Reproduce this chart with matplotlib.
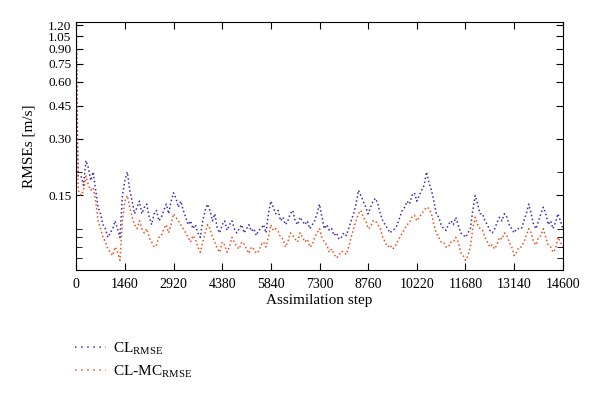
import numpy as np
import matplotlib
matplotlib.use("Agg")
from matplotlib import pyplot as plt
from matplotlib.lines import Line2D

plt.rcParams['font.family'] = ['Liberation Serif', 'DejaVu Serif']
plt.rcParams['mathtext.fontset'] = 'custom'
plt.rcParams['mathtext.rm'] = 'Liberation Serif'

# Spin-up part (steep drop at the very start)
spin_steps = [0, 12, 25, 40, 60]
cl_spin = [1.20, 0.75, 0.45, 0.28, 0.19]
mc_spin = [1.15, 0.70, 0.40, 0.24, 0.16]

# Values read every 146 assimilation steps (146 .. 14600)
cl_rmse = [
    0.19, 0.23, 0.18, 0.16, 0.12, 0.10, 0.095, 0.11, 0.09, 0.18,
    0.16, 0.12, 0.14, 0.13, 0.115, 0.12, 0.11, 0.125, 0.12, 0.155,
    0.13, 0.125, 0.105, 0.10, 0.095, 0.11, 0.135, 0.11, 0.10, 0.105,
    0.098, 0.11, 0.095, 0.105, 0.10, 0.097, 0.092, 0.10, 0.095, 0.14,
    0.12, 0.11, 0.105, 0.12, 0.11, 0.115, 0.105, 0.10, 0.11, 0.135,
    0.10, 0.098, 0.092, 0.088, 0.095, 0.10, 0.12, 0.16, 0.14, 0.12,
    0.14, 0.135, 0.11, 0.10, 0.098, 0.105, 0.125, 0.14, 0.15, 0.14,
    0.16, 0.20, 0.16, 0.12, 0.105, 0.098, 0.11, 0.115, 0.095, 0.09,
    0.10, 0.15, 0.12, 0.11, 0.098, 0.10, 0.115, 0.12, 0.105, 0.095,
    0.10, 0.11, 0.135, 0.105, 0.11, 0.13, 0.105, 0.10, 0.12, 0.10,
]
mc_rmse = [
    0.15, 0.19, 0.16, 0.14, 0.10, 0.085, 0.075, 0.08, 0.068, 0.14,
    0.13, 0.105, 0.11, 0.095, 0.09, 0.08, 0.09, 0.10, 0.095, 0.12,
    0.11, 0.10, 0.09, 0.092, 0.08, 0.085, 0.105, 0.09, 0.078, 0.085,
    0.075, 0.09, 0.08, 0.085, 0.078, 0.08, 0.074, 0.082, 0.08, 0.105,
    0.10, 0.09, 0.08, 0.095, 0.088, 0.095, 0.085, 0.08, 0.09, 0.10,
    0.085, 0.075, 0.073, 0.072, 0.075, 0.08, 0.10, 0.12, 0.115, 0.10,
    0.11, 0.105, 0.09, 0.08, 0.078, 0.085, 0.095, 0.105, 0.115, 0.11,
    0.12, 0.13, 0.12, 0.095, 0.085, 0.08, 0.085, 0.09, 0.075, 0.068,
    0.08, 0.115, 0.10, 0.09, 0.08, 0.078, 0.09, 0.095, 0.085, 0.072,
    0.08, 0.085, 0.10, 0.085, 0.09, 0.10, 0.082, 0.075, 0.09, 0.08,
]
main_steps = [146 * (i + 1) for i in range(len(cl_rmse))]

# Readings half-way between (219 .. 14527): other edge of the scatter band
cl_half = [
    0.17, 0.21, 0.20, 0.13, 0.105, 0.09, 0.10, 0.10, 0.15, 0.20,
    0.14, 0.13, 0.12, 0.135, 0.105, 0.125, 0.115, 0.135, 0.14, 0.145,
    0.14, 0.115, 0.11, 0.105, 0.09, 0.125, 0.125, 0.12, 0.095, 0.11,
    0.105, 0.10, 0.10, 0.095, 0.105, 0.10, 0.098, 0.105, 0.12, 0.13,
    0.125, 0.115, 0.11, 0.125, 0.105, 0.11, 0.11, 0.105, 0.12, 0.115,
    0.105, 0.10, 0.095, 0.09, 0.092, 0.11, 0.135, 0.15, 0.13, 0.13,
    0.145, 0.12, 0.105, 0.095, 0.10, 0.115, 0.13, 0.135, 0.155, 0.15,
    0.17, 0.175, 0.14, 0.115, 0.10, 0.105, 0.105, 0.105, 0.093, 0.095,
    0.125, 0.135, 0.12, 0.105, 0.095, 0.108, 0.11, 0.115, 0.10, 0.10,
    0.10, 0.12, 0.12, 0.10, 0.12, 0.12, 0.11, 0.108, 0.11,
]
mc_half = [
    0.16, 0.17, 0.165, 0.11, 0.09, 0.078, 0.072, 0.075, 0.11, 0.15,
    0.115, 0.10, 0.10, 0.10, 0.085, 0.082, 0.092, 0.105, 0.105, 0.115,
    0.105, 0.095, 0.085, 0.088, 0.075, 0.095, 0.10, 0.085, 0.075, 0.082,
    0.08, 0.085, 0.078, 0.083, 0.074, 0.078, 0.076, 0.085, 0.09, 0.098,
    0.097, 0.088, 0.085, 0.092, 0.085, 0.09, 0.088, 0.082, 0.095, 0.09,
    0.082, 0.078, 0.07, 0.076, 0.073, 0.09, 0.11, 0.125, 0.11, 0.102,
    0.11, 0.10, 0.085, 0.082, 0.08, 0.09, 0.10, 0.108, 0.118, 0.115,
    0.125, 0.128, 0.105, 0.09, 0.085, 0.08, 0.085, 0.085, 0.072, 0.072,
    0.10, 0.105, 0.098, 0.085, 0.082, 0.083, 0.088, 0.092, 0.08, 0.075,
    0.08, 0.092, 0.095, 0.082, 0.092, 0.09, 0.08, 0.078, 0.085,
]
half_steps = [146 * (i + 1) + 73 for i in range(len(cl_half))]

steps = np.array(spin_steps + main_steps + half_steps)
order = np.argsort(steps)
steps = steps[order]
cl = np.array(cl_spin + cl_rmse + cl_half)[order]
mc = np.array(mc_spin + mc_rmse + mc_half)[order]

x_ticks = [0, 1460, 2920, 4380, 5840, 7300, 8760, 10220, 11680, 13140, 14600]
y_ticks = [0.15, 0.30, 0.45, 0.60, 0.75, 0.90, 1.05, 1.20]
y_minor = [0.07, 0.08, 0.09, 0.10, 0.20]

blue = '#3b2db4'
orange = '#f0501e'

fig = plt.figure(figsize=(6, 3.98), dpi=100)
ax = fig.add_axes([0.127, 0.322, 0.811, 0.623])

ax.plot(steps, cl, linestyle=':', color=blue, linewidth=1.1)
ax.plot(steps, mc, linestyle=':', color=orange, linewidth=1.1)

ax.set_yscale('log')
ax.set_xlim(0, 14600)
ax.set_ylim(0.0605, 1.25)
ax.set_xticks(x_ticks)
ax.set_xticklabels([str(t) for t in x_ticks])
ax.set_yticks(y_ticks)
ax.set_yticklabels(['%.2f' % t for t in y_ticks])
ax.set_yticks(y_minor, minor=True)
ax.set_yticklabels([], minor=True)
ax.tick_params(which='both', direction='in', top=True, right=True, labelsize=9.5)
ax.tick_params(which='major', length=5)
ax.tick_params(which='minor', length=4)
ax.tick_params(axis='x', pad=6, labelsize=10)
ax.set_xlabel('Assimilation step', fontsize=11, labelpad=2)
ax.set_ylabel('RMSEs [m/s]', fontsize=11, labelpad=9)

handles = [Line2D([], [], linestyle=(0, (1, 3)), color=blue, linewidth=1.1),
           Line2D([], [], linestyle=(0, (1, 3)), color=orange, linewidth=1.1)]
labels = [r'CL$_{\mathrm{RMSE}}$', r'CL-MC$_{\mathrm{RMSE}}$']
fig.legend(handles, labels, loc='upper left', bbox_to_anchor=(0.102, 0.18),
           frameon=False, fontsize=11, handlelength=2.0, handletextpad=0.5,
           labelspacing=0.45)

fig.savefig('out.png', dpi=100)
